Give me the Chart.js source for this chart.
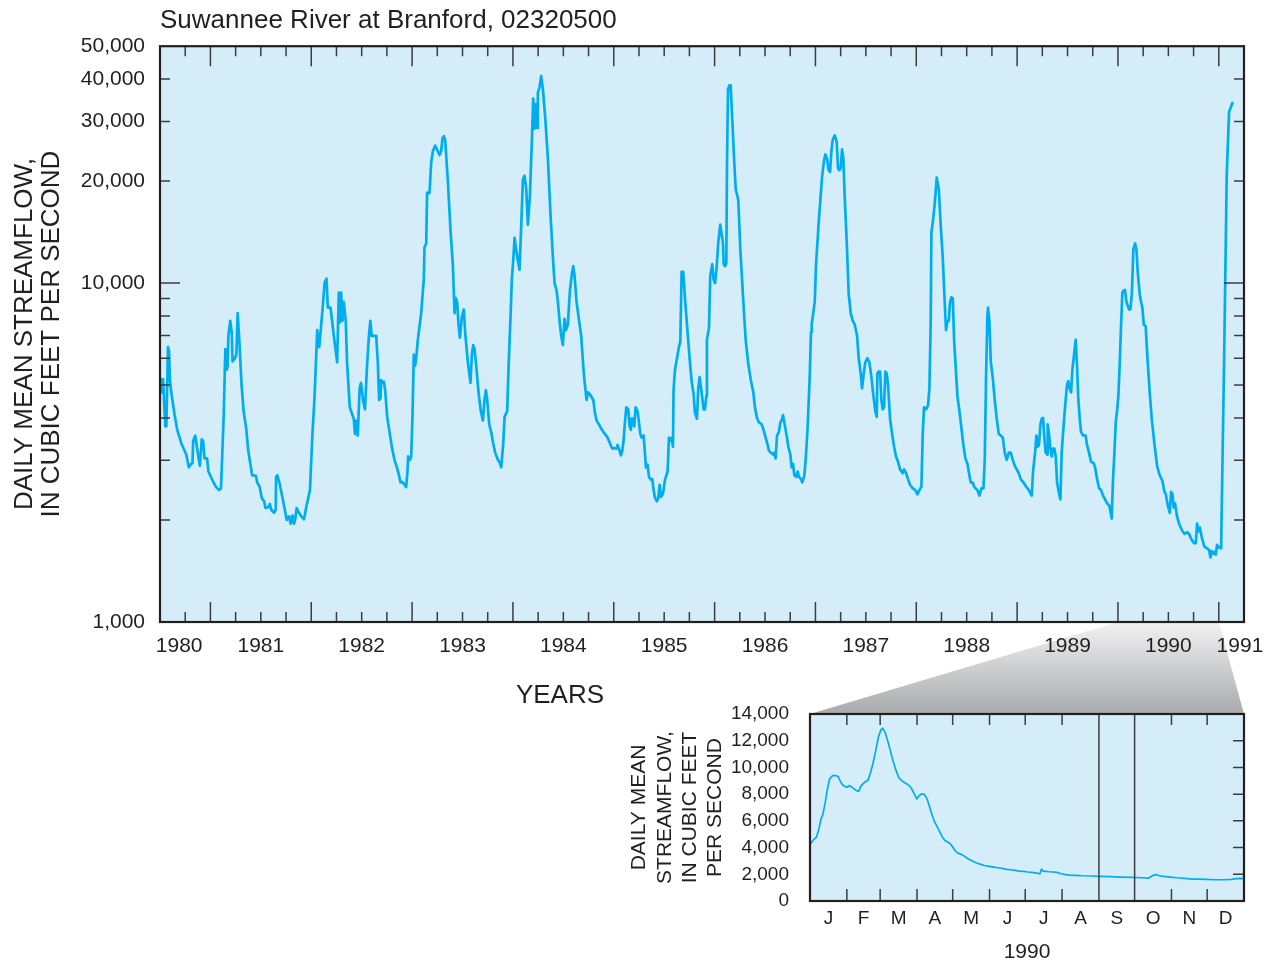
<!DOCTYPE html>
<html>
<head>
<meta charset="utf-8">
<title>Suwannee River at Branford, 02320500</title>
<script src="https://cdn.jsdelivr.net/npm/chart.js@4.4.0/dist/chart.umd.min.js"></script>
<style>
  html, body { margin: 0; padding: 0; background: #fff; }
  #wrap { position: relative; width: 1269px; height: 966px; overflow: hidden; }
  #main { position: absolute; left: 0; top: 0; width: 1269px; height: 720px; }
  #inset { position: absolute; left: 600px; top: 700px; width: 669px; height: 266px; }
</style>
</head>
<body>
<div id="wrap">
  <canvas id="main" width="1269" height="720"></canvas>
  <canvas id="inset" width="669" height="266"></canvas>
</div>
<script>
// daily mean streamflow, [decimal year, cubic feet per second]
const mainSeries = [
  [1980.507,5210],[1980.520,4760],[1980.530,5210],[1980.553,3780],[1980.563,3780],[1980.579,6470],[1980.589,6310],[1980.599,5140],[1980.612,4760],[1980.645,4080],[1980.671,3690],[1980.711,3370],[1980.760,3120],[1980.786,2860],[1980.809,2930],[1980.822,2940],[1980.829,3420],[1980.849,3550],[1980.868,3250],[1980.895,2890],[1980.914,3460],[1980.928,3420],[1980.941,3040],[1980.967,3040],[1980.980,2780],
  [1981.023,2610],[1981.056,2500],[1981.086,2450],[1981.105,2480],[1981.132,4080],[1981.148,6390],[1981.161,5550],[1981.171,5700],[1981.178,6990],[1981.197,7740],[1981.211,7170],[1981.220,5870],[1981.243,6000],[1981.257,6150],[1981.270,8150],[1981.286,6810],[1981.309,5010],[1981.329,4190],[1981.355,3730],[1981.375,3200],[1981.414,2710],[1981.451,2700],[1981.464,2580],[1981.487,2510],[1981.510,2320],[1981.533,2270],[1981.546,2170],[1981.576,2180],[1981.589,2230],[1981.605,2140],[1981.632,2100],[1981.648,2150],[1981.651,2680],[1981.664,2710],[1981.684,2580],[1981.714,2330],[1981.737,2150],[1981.757,2000],[1981.780,2050],[1981.796,1950],[1981.813,2060],[1981.829,1950],[1981.842,2020],[1981.855,2170],[1981.878,2100],[1981.901,2050],[1981.928,2010],[1981.954,2210],[1981.987,2450],
  [1982.010,3500],[1982.033,4640],[1982.059,7260],[1982.079,6470],[1982.092,7170],[1982.112,8360],[1982.132,10000],[1982.151,10310],[1982.164,8470],[1982.191,8470],[1982.224,6990],[1982.257,5840],[1982.273,9380],[1982.283,7650],[1982.296,9380],[1982.309,7740],[1982.322,8800],[1982.342,7740],[1982.355,5840],[1982.382,4300],[1982.401,4140],[1982.421,3980],[1982.434,3590],[1982.447,3930],[1982.461,3550],[1982.480,4890],[1982.493,5080],[1982.513,4520],[1982.533,4240],[1982.553,5700],[1982.572,6990],[1982.586,7740],[1982.599,6990],[1982.618,6990],
  [1982.644,6990],[1982.660,5840],[1982.673,4520],[1982.687,4580],[1982.693,5170],[1982.706,5080],[1982.720,5120],[1982.733,4830],[1982.753,4030],[1982.776,3640],[1982.799,3290],[1982.825,3010],[1982.845,2890],[1982.865,2750],[1982.885,2580],[1982.905,2590],[1982.925,2540],[1982.941,2500],[1982.954,2780],[1982.961,3080],[1982.978,3010],[1982.991,3080],
  [1983.004,4080],[1983.017,6150],[1983.030,5700],[1983.044,6150],[1983.057,6810],[1983.090,8150],[1983.116,10260],[1983.123,12750],[1983.140,13090],[1983.149,18480],[1983.163,18380],[1983.173,18480],[1983.189,22680],[1983.206,24490],[1983.229,25450],[1983.255,24490],[1983.272,23870],[1983.288,24490],[1983.302,26780],[1983.315,27130],[1983.328,26450],[1983.355,19950],[1983.381,14310],[1983.404,11370],[1983.421,8150],[1983.434,9030],[1983.447,8800],[1983.460,7550],[1983.474,6900],[1983.493,7940],[1983.513,8360],[1983.526,7170],[1983.553,5840],[1983.579,5080],[1983.593,6150],[1983.606,6560],[1983.619,6390],[1983.636,5700],[1983.659,4760],[1983.679,4240],[1983.702,3930],[1983.718,4520],[1983.732,4830],[1983.745,4520],[1983.765,3830],[1983.784,3640],[1983.804,3370],[1983.824,3160],[1983.851,3010],[1983.867,2970],[1983.884,2860],[1983.903,3330],[1983.917,4030],[1983.943,4190],[1983.956,5550],[1983.976,7940],[1983.989,10260],
  [1984.003,11660],[1984.016,13590],[1984.032,12590],[1984.049,11660],[1984.065,10940],[1984.082,14680],[1984.099,20210],[1984.115,20740],[1984.132,18960],[1984.148,14870],[1984.168,18010],[1984.188,26450],[1984.201,35030],[1984.214,28550],[1984.228,33720],[1984.241,28680],[1984.247,36400],[1984.264,37820],[1984.280,40840],[1984.297,37340],[1984.320,30820],[1984.347,23270],[1984.373,15850],[1984.396,11960],[1984.413,10000],[1984.433,9500],[1984.446,8800],[1984.462,7740],[1984.479,6990],[1984.495,6560],[1984.512,7840],[1984.525,7260],[1984.545,7550],[1984.565,9500],[1984.585,10660],[1984.598,11220],[1984.611,10520],[1984.631,8800],[1984.651,7940],[1984.677,6990],[1984.697,5700],[1984.710,5140],[1984.730,4520],[1984.743,4760],[1984.763,4700],
  [1984.797,4520],[1984.813,4140],[1984.830,3930],[1984.853,3830],[1984.873,3730],[1984.896,3640],[1984.912,3590],[1984.939,3500],[1984.962,3370],[1984.985,3250],
  [1985.005,3260],[1985.028,3250],[1985.038,3330],[1985.058,3200],[1985.071,3100],[1985.084,3200],[1985.097,3420],[1985.111,3880],[1985.124,4300],[1985.144,4240],[1985.157,3780],[1985.170,3690],[1985.177,3980],[1985.190,3980],[1985.203,3780],[1985.217,4300],[1985.236,4190],[1985.250,3880],[1985.263,3590],[1985.276,3500],[1985.296,3550],[1985.309,3160],[1985.319,2860],[1985.336,2910],[1985.349,2680],[1985.369,2630],[1985.382,2640],[1985.395,2450],[1985.408,2330],[1985.428,2270],[1985.441,2320],[1985.455,2540],[1985.468,2340],[1985.488,2390],[1985.508,2630],[1985.534,2780],[1985.547,3500],[1985.560,3420],[1985.574,3490],[1985.587,3290],[1985.593,4830],[1985.607,5550],[1985.627,6000],[1985.646,6470],[1985.660,6730],[1985.673,10800],[1985.689,10800],[1985.706,9030],[1985.732,7170],[1985.752,6000],[1985.772,5140],[1985.792,4700],[1985.805,4140],[1985.825,3980],[1985.838,4890],[1985.851,5280],[1985.871,4760],[1985.891,4240],[1985.904,4240],[1985.918,4640],[1985.924,6810],[1985.944,7360],[1985.957,10520],[1985.977,11370],[1985.990,10260],
  [1986.004,10000],[1986.020,11080],[1986.037,13260],[1986.056,14870],[1986.070,13950],[1986.083,13090],[1986.090,11370],[1986.103,11220],[1986.116,11420],[1986.123,22680],[1986.133,37340],[1986.146,38310],[1986.159,38310],[1986.176,30050],[1986.195,22680],[1986.209,18960],[1986.235,17560],[1986.255,12590],[1986.285,8800],[1986.308,6810],[1986.334,5770],[1986.361,5140],[1986.384,4760],[1986.400,4300],[1986.420,4000],[1986.440,3880],[1986.467,3830],[1986.486,3690],[1986.506,3500],[1986.526,3330],[1986.539,3200],[1986.559,3160],[1986.579,3120],[1986.592,3160],[1986.605,3040],[1986.619,3550],[1986.638,3640],[1986.652,3880],[1986.665,3930],[1986.678,4080],[1986.698,3780],[1986.718,3500],[1986.731,3290],[1986.751,3120],[1986.764,2860],[1986.777,2930],[1986.791,2710],[1986.810,2680],[1986.824,2780],[1986.837,2680],[1986.857,2640],[1986.870,2580],[1986.890,2710],[1986.903,3010],[1986.923,3780],[1986.943,5280],[1986.956,7170],[1986.963,7550],
  [1986.993,8800],[1987.006,11370],[1987.032,15060],[1987.065,20470],[1987.082,22680],[1987.098,23990],[1987.115,23270],[1987.131,21540],[1987.145,21270],[1987.158,24490],[1987.171,26450],[1987.191,27270],[1987.211,26100],[1987.224,21820],[1987.237,21540],[1987.250,21820],[1987.264,24800],[1987.277,23270],[1987.290,18010],[1987.310,13260],[1987.330,9260],[1987.350,8150],[1987.370,7740],[1987.389,7550],[1987.413,6990],[1987.429,6000],[1987.449,5410],[1987.462,4890],[1987.479,5410],[1987.495,5840],[1987.515,6000],[1987.535,5840],[1987.555,5280],[1987.575,4640],[1987.594,4190],[1987.608,4030],[1987.614,5410],[1987.627,5480],[1987.641,5480],[1987.654,4520],[1987.667,4240],[1987.680,4300],[1987.694,5480],[1987.707,5410],[1987.720,5010],[1987.740,3980],[1987.760,3590],[1987.780,3290],[1987.799,3080],[1987.819,2970],[1987.839,2820],[1987.866,2750],[1987.879,2820],[1987.899,2750],[1987.918,2640],[1987.938,2540],[1987.965,2480],[1987.991,2450],
  [1988.011,2380],[1988.031,2450],[1988.051,2510],[1988.064,3590],[1988.077,4300],[1988.097,4240],[1988.117,4360],[1988.130,4890],[1988.143,7550],[1988.150,14130],[1988.163,15060],[1988.183,17110],[1988.203,20470],[1988.223,18960],[1988.243,14680],[1988.262,11960],[1988.282,8800],[1988.295,7260],[1988.309,7740],[1988.322,7740],[1988.335,8800],[1988.348,9070],[1988.362,9030],[1988.375,6810],[1988.388,5840],[1988.408,4640],[1988.428,4190],[1988.448,3730],[1988.467,3330],[1988.487,3040],[1988.507,2930],[1988.527,2710],[1988.540,2580],[1988.560,2580],[1988.573,2510],[1988.586,2480],[1988.606,2450],[1988.626,2360],[1988.646,2480],[1988.666,2480],[1988.679,3010],[1988.692,5280],[1988.705,7940],[1988.712,8470],[1988.725,7740],[1988.739,5840],[1988.758,5280],[1988.778,4520],[1988.798,3980],[1988.818,3590],[1988.838,3550],[1988.858,3500],[1988.877,3160],[1988.897,3010],[1988.917,3160],[1988.937,3160],[1988.957,3010],[1988.977,2890],[1988.996,2820],
  [1989.016,2750],[1989.036,2640],[1989.063,2580],[1989.089,2510],[1989.116,2450],[1989.145,2360],[1989.158,2780],[1989.178,3160],[1989.191,3550],[1989.204,3290],[1989.217,3330],[1989.231,3830],[1989.244,3980],[1989.257,4000],[1989.270,3500],[1989.283,3160],[1989.297,3120],[1989.303,3830],[1989.316,3590],[1989.330,3250],[1989.343,3080],[1989.356,3250],[1989.369,3250],[1989.383,3080],[1989.396,2580],[1989.416,2390],[1989.429,2300],[1989.442,3160],[1989.455,3590],[1989.475,4300],[1989.495,5010],[1989.508,5140],[1989.522,4890],[1989.535,4760],[1989.548,5550],[1989.565,6150],[1989.581,6810],[1989.594,5700],[1989.607,4520],[1989.621,3980],[1989.634,3640],[1989.654,3550],[1989.680,3550],[1989.693,3330],[1989.713,3160],[1989.733,2970],[1989.760,2940],[1989.773,2860],[1989.793,2640],[1989.813,2480],[1989.832,2450],[1989.852,2360],[1989.872,2300],[1989.892,2240],[1989.912,2210],[1989.925,2130],[1989.938,2020],[1989.951,2640],[1989.965,3160],[1989.978,3880],[1989.991,4190],
  [1990.004,4640],[1990.018,5840],[1990.031,7550],[1990.044,9380],[1990.057,9500],[1990.070,9550],[1990.084,8800],[1990.097,8580],[1990.110,8360],[1990.123,8360],[1990.137,9260],[1990.143,10260],[1990.153,12590],[1990.170,13090],[1990.183,12590],[1990.196,10800],[1990.216,9260],[1990.229,8800],[1990.242,8470],[1990.256,7550],[1990.275,7450],[1990.295,5840],[1990.315,4760],[1990.335,3980],[1990.361,3370],[1990.388,2890],[1990.414,2710],[1990.441,2610],[1990.461,2420],[1990.474,2390],[1990.494,2210],[1990.514,2100],[1990.527,2420],[1990.540,2390],[1990.553,2180],[1990.566,2240],[1990.586,2050],[1990.606,1950],[1990.633,1870],[1990.659,1820],[1990.686,1840],[1990.705,1820],[1990.725,1760],[1990.752,1710],[1990.772,1710],[1990.785,1950],[1990.798,1850],[1990.811,1900],[1990.831,1780],[1990.857,1670],[1990.884,1650],[1990.904,1630],[1990.917,1550],[1990.930,1620],[1990.943,1590],[1990.957,1610],[1990.970,1580],[1990.983,1690],[1990.996,1660],
  [1991.010,1660],[1991.023,1650],[1991.053,6000],[1991.079,21000],[1991.102,32000],[1991.135,34000]
];

// 1990 detail, [day of year, cubic feet per second]
const insetSeries = [
  [0,4240],[2.9,4580],[5.4,4780],[7.5,5400],[9.3,6150],[10.8,6480],[12.6,7270],[14.4,8270],[16.5,9140],[19.0,9390],[21.6,9390],[23.7,9320],[25.9,8890],[28.0,8640],[30.9,8520],[33.4,8640],[35.9,8470],[38.8,8270],[41.0,8220],[43.1,8640],[46.0,8890],[48.9,9070],[51.0,9640],[53.2,10390],[55.3,11260],[57.5,12260],[59.6,12800],[61.1,12930],[63.2,12630],[66.1,11760],[69.0,10760],[71.9,9890],[74.7,9220],[77.6,8970],[80.5,8820],[83.4,8640],[85.5,8400],[87.7,8020],[89.8,7650],[92.0,7900],[94.1,8020],[96.3,7970],[98.4,7650],[100.6,7030],[102.8,6400],[104.9,5900],[107.1,5530],[109.2,5160],[111.4,4780],[113.5,4530],[115.7,4410],[117.9,4290],[120.0,4040],[122.2,3740],[124.3,3590],[127.2,3490],[130.1,3340],[132.9,3160],[136.5,2990],[140.1,2840],[143.7,2740],[147.3,2640],[150.9,2590],[154.5,2540],[158.1,2490],[161.7,2440],[165.3,2370],[168.9,2340],[172.5,2290],[176.1,2240],[179.7,2220],[183.2,2170],[186.8,2140],[190.4,2090],[193.3,2040],[194.7,2370],[196.2,2240],[198.3,2220],[201.2,2190],[204.8,2170],[207.7,2140],[211.3,2040],[214.9,1970],[218.5,1940],[223.8,1920],[229.2,1890],[236.4,1870],[244.3,1840],[252.6,1820],[261.6,1790],[270.6,1770],[279.5,1740],[284.9,1720],[288.5,1920],[291.0,1970],[293.9,1890],[297.5,1840],[302.9,1790],[308.3,1740],[315.5,1690],[320.9,1640],[326.2,1640],[333.4,1620],[340.6,1590],[347.8,1590],[354.3,1620],[358.6,1670],[362.2,1690],[365,1670]
];

const yearLabels = ['1980','1981','1982','1983','1984','1985','1986','1987','1988','1989','1990','1991'];
const yearLabelPos = [1980.69,1981.5,1982.5,1983.5,1984.5,1985.5,1986.5,1987.5,1988.5,1989.5,1990.5,1991.21];
const flowTicks = [1000,2000,3000,4000,5000,6000,7000,8000,9000,10000,20000,30000,40000,50000];
const flowLabelValues = [1000,10000,20000,30000,40000,50000];

const monthStarts = [0,31,59,90,120,151,181,212,243,273,304,334,365];
const monthLabels = ['J','F','M','A','M','J','J','A','S','O','N','D'];
const markedMonths = [243,273];
const insetFlowTicks = [0,2000,4000,6000,8000,10000,12000,14000];

const FONT = "'Liberation Sans', Arial, Helvetica, sans-serif";
const INK = '#231f20';
const TICK = '#3d3d3d';
const PLOT_BG = '#d5edf9';
const LINE = '#00aeef';
const INSET_POS = { left: 600, top: 700 };

Chart.defaults.font.family = FONT;
Chart.defaults.color = INK;

function fillArea(chart) {
  const { ctx, chartArea: a } = chart;
  ctx.save();
  ctx.fillStyle = PLOT_BG;
  ctx.fillRect(a.left, a.top, a.width, a.height);
  ctx.restore();
}

const insetDecor = {
  id: 'insetDecor',
  beforeDraw: fillArea,
  afterDatasetsDraw(chart) {
    const { ctx, chartArea: a, scales: { x, y } } = chart;
    ctx.save();
    ctx.strokeStyle = TICK;
    ctx.lineWidth = 1.5;
    ctx.beginPath();
    monthStarts.slice(1, -1).forEach(d => {
      const px = x.getPixelForValue(d);
      if (markedMonths.includes(d)) {
        ctx.moveTo(px, a.top); ctx.lineTo(px, a.bottom);
      } else {
        ctx.moveTo(px, a.top); ctx.lineTo(px, a.top + 11);
        ctx.moveTo(px, a.bottom); ctx.lineTo(px, a.bottom - 12);
      }
    });
    insetFlowTicks.slice(1, -1).forEach(v => {
      const py = y.getPixelForValue(v);
      ctx.moveTo(a.right, py); ctx.lineTo(a.right - 11, py);
    });
    ctx.stroke();
    ctx.strokeStyle = INK;
    ctx.lineWidth = 2.2;
    ctx.strokeRect(a.left, a.top, a.width, a.height);
    ctx.restore();
  }
};

const insetChart = new Chart(document.getElementById('inset'), {
  type: 'line',
  data: {
    datasets: [{
      data: insetSeries.map(([d, q]) => ({ x: d, y: q })),
      borderColor: LINE,
      borderWidth: 1.7,
      pointRadius: 0,
      tension: 0,
      fill: false
    }]
  },
  options: {
    responsive: false,
    devicePixelRatio: 1,
    animation: false,
    events: [],
    layout: { padding: { left: 0, top: 14, right: 25, bottom: 0 } },
    plugins: { legend: { display: false }, tooltip: { enabled: false } },
    scales: {
      x: {
        type: 'linear', min: 0, max: 365,
        grid: { display: false }, border: { display: false },
        afterBuildTicks: s => {
          s.ticks = monthLabels.map((m, i) => ({ value: (monthStarts[i] + monthStarts[i + 1]) / 2 }));
        },
        afterFit: s => { s.height = 65; s.paddingLeft = 0; s.paddingRight = 0; },
        ticks: {
          autoSkip: false, maxRotation: 0, padding: -2,
          font: { size: 19 },
          callback: (v, i) => monthLabels[i]
        },
        title: { display: true, text: '1990', font: { size: 21 }, padding: { top: 0, bottom: 1 } }
      },
      y: {
        type: 'linear', min: 0, max: 14000,
        grid: { display: false }, border: { display: false },
        afterBuildTicks: s => { s.ticks = insetFlowTicks.map(v => ({ value: v })); },
        afterFit: s => { s.width = 210; s.paddingTop = 0; s.paddingBottom = 0; },
        ticks: {
          padding: 13,
          font: { size: 19 },
          callback: v => v.toLocaleString('en-US')
        },
        title: {
          display: true,
          text: ['DAILY MEAN', 'STREAMFLOW,', 'IN CUBIC FEET', 'PER SECOND'],
          font: { size: 21, lineHeight: 1.2 },
          padding: { top: 27, bottom: 0 }
        }
      }
    }
  },
  plugins: [insetDecor]
});

const mainDecor = {
  id: 'mainDecor',
  beforeDraw(chart) {
    const { ctx, chartArea: a, scales: { x } } = chart;
    const ia = insetChart.chartArea;
    const iLeft = INSET_POS.left + ia.left;
    const iRight = INSET_POS.left + ia.right;
    const iTop = INSET_POS.top + ia.top;
    ctx.save();
    // wedge tying 1990 on the main graph to the detail graph below
    const g = ctx.createLinearGradient(0, a.bottom, 0, iTop);
    g.addColorStop(0, '#f2f2f3');
    g.addColorStop(1, '#a9aaac');
    ctx.fillStyle = g;
    ctx.beginPath();
    ctx.moveTo(x.getPixelForValue(1990), a.bottom);
    ctx.lineTo(x.getPixelForValue(1991), a.bottom);
    ctx.lineTo(iRight, iTop);
    ctx.lineTo(iLeft, iTop);
    ctx.closePath();
    ctx.fill();
    ctx.restore();
    fillArea(chart);
  },
  afterDatasetsDraw(chart) {
    const { ctx, chartArea: a, scales: { x, y } } = chart;
    ctx.save();
    ctx.strokeStyle = TICK;
    ctx.lineWidth = 1.5;
    ctx.beginPath();
    for (let q = Math.ceil(x.min * 4); q <= Math.floor(x.max * 4); q++) {
      const v = q / 4;
      if (v <= x.min || v >= x.max) continue;
      const len = q % 4 === 0 ? 20 : 10;
      const px = x.getPixelForValue(v);
      ctx.moveTo(px, a.top); ctx.lineTo(px, a.top + len);
      ctx.moveTo(px, a.bottom); ctx.lineTo(px, a.bottom - len);
    }
    flowTicks.slice(1, -1).forEach(v => {
      const len = v === 10000 ? 20 : 10;
      const py = y.getPixelForValue(v);
      ctx.moveTo(a.left, py); ctx.lineTo(a.left + len, py);
      ctx.moveTo(a.right, py); ctx.lineTo(a.right - len, py);
    });
    ctx.stroke();
    ctx.strokeStyle = INK;
    ctx.lineWidth = 2.2;
    ctx.strokeRect(a.left, a.top, a.width, a.height);
    ctx.fillStyle = INK;
    ctx.font = '26px ' + FONT;
    ctx.textAlign = 'center';
    ctx.textBaseline = 'middle';
    ctx.fillText('YEARS', 560, 696);
    ctx.restore();
  }
};

new Chart(document.getElementById('main'), {
  type: 'line',
  data: {
    datasets: [{
      data: mainSeries.map(([t, q]) => ({ x: t, y: q })),
      borderColor: LINE,
      borderWidth: 2.7,
      borderJoinStyle: 'round',
      borderCapStyle: 'round',
      pointRadius: 0,
      tension: 0,
      fill: false
    }]
  },
  options: {
    responsive: false,
    devicePixelRatio: 1,
    animation: false,
    events: [],
    layout: { padding: { left: 0, top: 0, right: 25, bottom: 0 } },
    plugins: {
      legend: { display: false },
      tooltip: { enabled: false },
      title: {
        display: true,
        text: 'Suwannee River at Branford, 02320500',
        align: 'start',
        fullSize: false,
        color: INK,
        font: { size: 26, weight: 'normal', lineHeight: 1.2 },
        padding: { top: 5, bottom: 10 }
      }
    },
    scales: {
      x: {
        type: 'linear', min: 1980.5, max: 1991.25,
        grid: { display: false }, border: { display: false },
        afterBuildTicks: s => { s.ticks = yearLabelPos.map(v => ({ value: v })); },
        afterFit: s => { s.height = 98; s.paddingLeft = 0; s.paddingRight = 0; },
        ticks: {
          autoSkip: false, maxRotation: 0, padding: 4,
          font: { size: 21 },
          callback: (v, i) => yearLabels[i]
        }
      },
      y: {
        type: 'logarithmic', min: 1000, max: 50000,
        grid: { display: false }, border: { display: false },
        afterBuildTicks: s => { s.ticks = flowTicks.map(v => ({ value: v })); },
        afterFit: s => { s.width = 160; s.paddingTop = 0; s.paddingBottom = 0; },
        ticks: {
          padding: 7,
          font: { size: 21 },
          callback: v => flowLabelValues.includes(v) ? v.toLocaleString('en-US') : ''
        },
        title: {
          display: true,
          text: ['DAILY MEAN STREAMFLOW,', 'IN CUBIC FEET PER SECOND'],
          font: { size: 26, lineHeight: 1.04 },
          padding: { top: 11, bottom: 0 }
        }
      }
    }
  },
  plugins: [mainDecor]
});
</script>
</body>
</html>
